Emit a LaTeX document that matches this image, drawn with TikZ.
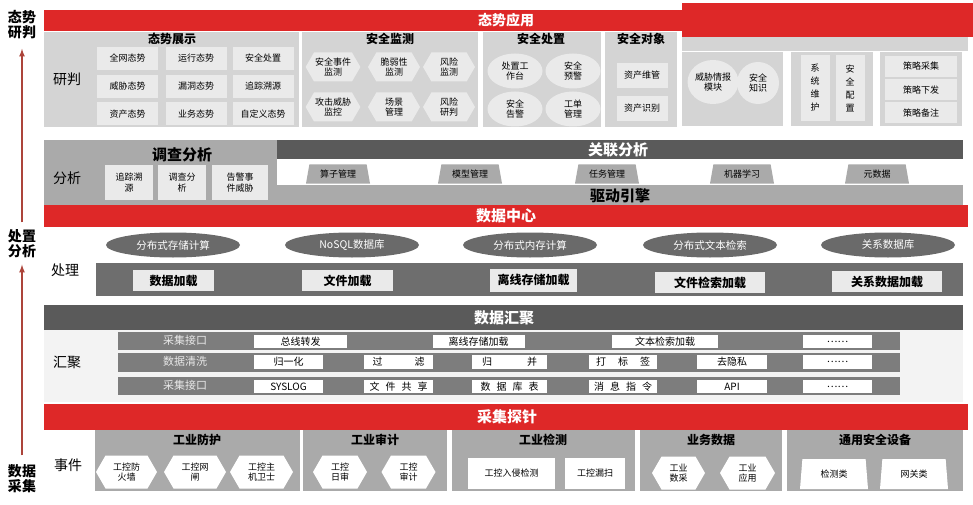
\documentclass[tikz,border=0pt]{standalone}
\usepackage{fontspec}
\setmainfont{Noto Sans CJK SC}
\usetikzlibrary{shapes.geometric}
\usetikzlibrary{shapes.symbols}
\usetikzlibrary{positioning}

\definecolor{tsred}{RGB}{222,40,40}
\definecolor{panelgrey}{RGB}{212,212,212}
\definecolor{cellgrey}{RGB}{234,234,234}
\definecolor{darkbar}{RGB}{90,90,90}
\definecolor{loadbar}{RGB}{110,110,110}
\definecolor{midgrey}{RGB}{170,170,170}
\definecolor{ovalgrey}{RGB}{106,106,106}
\definecolor{rowgrey}{RGB}{125,125,125}
\definecolor{paper}{RGB}{243,243,243}
\definecolor{arrowred}{RGB}{172,68,58}

\begin{document}
\begin{tikzpicture}[x=1pt,y=-1pt,
        font=\fontsize{9}{10.5}\selectfont,
        bartext/.style = {text=white,font=\fontsize{14}{16}\selectfont\bfseries},
        hdr/.style = {font=\fontsize{12}{14}\selectfont\bfseries},
        bighdr/.style = {font=\fontsize{15}{17}\selectfont\bfseries},
        rowlbl/.style = {font=\fontsize{14}{16}\selectfont},
        sidelbl/.style = {font=\fontsize{14}{15}\selectfont\bfseries,align=center},
        cell/.style = {fill=cellgrey,inner sep=1pt,align=center},
        hexa/.style = {shape=signal,signal to=east and west,signal pointer angle=120,
            fill=cellgrey,inner sep=1pt,align=center},
        oval/.style = {ellipse,fill=cellgrey,inner sep=0pt,align=center},
        trap/.style = {trapezium,trapezium left angle=72,trapezium right angle=72,
            trapezium stretches body,fill=midgrey,inner sep=1pt},
        store/.style = {ellipse,fill=ovalgrey,text=white,minimum width=134,minimum height=25,
            inner sep=0pt,font=\fontsize{10.5}{12}\selectfont},
        load/.style = {fill=cellgrey,minimum height=21,inner sep=1pt,
            font=\fontsize{12}{14}\selectfont\bfseries},
        rowtag/.style = {text={rgb,255:red,232;green,232;blue,232},font=\fontsize{11}{12}\selectfont},
        slot/.style = {fill=white,minimum height=13,inner sep=0pt,font=\fontsize{10}{11}\selectfont},
        probe/.style = {fill=white,inner sep=1pt,align=center,minimum height=33},
        up/.style = {-latex,draw=arrowred,line width=1.6pt}]
    \useasboundingbox (0,0) rectangle (973,505);
    % left side labels
    \node[sidelbl] (tsyp) at (22,25) {态势\\研判};
    \node[sidelbl] (czfx) at (22,244) {处置\\分析};
    \node[sidelbl] (sjcj) at (22,479) {数据\\采集};
    \draw[up,shorten >=6pt,shorten <=4pt] (czfx.north) -- (tsyp.south);
    \draw[up,shorten >=3pt,shorten <=6pt] (sjcj.north) -- (czfx.south);

    % situation application
    \fill[tsred] (44,10) rectangle (968,31);
    \fill[tsred] (682,3) rectangle (973,37);
    \node[bartext] (tsyy) at (506,20) {态势应用};
    \fill[panelgrey] (44,32) rectangle (299,127);
    \fill[panelgrey] (302,32) rectangle (478,127);
    \fill[panelgrey] (483,32) rectangle (601,127);
    \fill[panelgrey] (605,32) rectangle (677,127);
    \fill[panelgrey] (682,37) rectangle (968,51);
    \fill[panelgrey] (682,52) rectangle (783,126);
    \fill[panelgrey] (791,52) rectangle (873,126);
    \fill[panelgrey] (880,52) rectangle (962,126);
    \node[rowlbl] (yp) at (67,79) {研判};
    \node[hdr] (tszs) at (172,39) {态势展示};
    \node[hdr] (aqjc) at (390,39) {安全监测};
    \node[hdr] (aqcz) at (541,39) {安全处置};
    \node[hdr] (aqdx) at (641,39) {安全对象};
    \begin{scope}[every node/.append style={cell,minimum width=61,minimum height=23}]
        \node (z11) at (127.5,58.5) {全网态势};
        \node (z12) at (196,58.5) {运行态势};
        \node (z13) at (263,58.5) {安全处置};
        \node (z21) at (127.5,86.5) {威胁态势};
        \node (z22) at (196,86.5) {漏洞态势};
        \node (z23) at (263,86.5) {追踪溯源};
        \node (z31) at (127.5,114) {资产态势};
        \node (z32) at (196,114) {业务态势};
        \node (z33) at (263,114) {自定义态势};
    \end{scope}
    \begin{scope}[every node/.append style={hexa,minimum width=52,minimum height=29}]
        \node (j1) at (333,67) {安全事件\\监测};
        \node (j2) at (394,67) {脆弱性\\监测};
        \node (j3) at (449,67) {风险\\监测};
        \node (j4) at (333,107) {攻击威胁\\监控};
        \node (j5) at (394,107) {场景\\管理};
        \node (j6) at (449,107) {风险\\研判};
    \end{scope}
    \begin{scope}[every node/.append style={oval,minimum width=55,minimum height=35}]
        \node (c1) at (515,71) {处置工\\作台};
        \node (c2) at (573,71) {安全\\预警};
        \node (c3) at (515,109) {安全\\告警};
        \node (c4) at (573,109) {工单\\管理};
    \end{scope}
    \node[cell,minimum width=51,minimum height=25] (d1) at (642,75.5) {资产维管};
    \node[cell,minimum width=51,minimum height=25] (d2) at (642,108.5) {资产识别};
    \node[oval,minimum size=44] (q1) at (713,82) {威胁情报\\模块};
    \node[oval,minimum size=42] (q2) at (758,83) {安全\\知识};
    \node[cell,minimum width=29,minimum height=66,font=\fontsize{9}{13}\selectfont] (w1) at (815,88) {系\\统\\维\\护};
    \node[cell,minimum width=29,minimum height=66,font=\fontsize{9}{13}\selectfont] (w2) at (850,88) {安\\全\\配\\置};
    \node[cell,minimum width=72,minimum height=21] (p1) at (921,66.5) {策略采集};
    \node[cell,minimum width=72,minimum height=21] (p2) at (921,90) {策略下发};
    \node[cell,minimum width=72,minimum height=21] (p3) at (921,113) {策略备注};

    % analysis
    \fill[midgrey] (44,140) rectangle (963,205);
    \fill[darkbar] (277,140) rectangle (963,159);
    \fill[white] (277,159) rectangle (963,185);
    \node[rowlbl] (fx) at (67,178) {分析};
    \node[bighdr] (dcfx) at (182,155) {调查分析};
    \node[cell,minimum width=48,minimum height=35] (a1) at (129,182.5) {追踪溯\\源};
    \node[cell,minimum width=48,minimum height=35] (a2) at (182,182.5) {调查分\\析};
    \node[cell,minimum width=56,minimum height=35] (a3) at (240,182.5) {告警事\\件威胁};
    \node[bartext,font=\fontsize{15}{17}\selectfont\bfseries] (glfx) at (618,150) {关联分析};
    \node[bighdr] (qdyq) at (620,196) {驱动引擎};
    \begin{scope}[every node/.append style={trap,minimum width=64,minimum height=19}]
        \node (t1) at (338,174) {算子管理};
        \node (t2) at (470,174) {模型管理};
        \node (t3) at (607,174) {任务管理};
        \node (t4) at (742,174) {机器学习};
        \node (t5) at (877,174) {元数据};
    \end{scope}

    % data centre
    \fill[tsred] (44,205) rectangle (968,227);
    \node[bartext,font=\fontsize{15}{17}\selectfont\bfseries] (sjzx) at (506,216) {数据中心};
    \node[store] (s1) at (173,245) {分布式存储计算};
    \node[store] (s2) at (352,245) {NoSQL数据库};
    \node[store] (s3) at (530,245) {分布式内存计算};
    \node[store] (s4) at (710,245) {分布式文本检索};
    \node[store] (s5) at (888,245) {关系数据库};
    \node[rowlbl] (cl) at (65,270) {处理};
    \fill[loadbar] (96,263) rectangle (963,296);
    \node[load,minimum width=81] (l1) at (173.5,280.5) {数据加载};
    \node[load,minimum width=91] (l2) at (347.5,280.5) {文件加载};
    \node[load,minimum width=87,minimum height=23] (l3) at (533.5,280) {离线存储加载};
    \node[load,minimum width=110] (l4) at (710,282.5) {文件检索加载};
    \node[load,minimum width=110] (l5) at (887,281.5) {关系数据加载};

    % data gathering
    \fill[darkbar] (44,305) rectangle (963,330);
    \node[bartext,font=\fontsize{15}{17}\selectfont\bfseries] (sjhj) at (504,318) {数据汇聚};
    \fill[paper] (44,330) rectangle (963,402);
    \node[rowlbl] (hj) at (67,362) {汇聚};
    \fill[rowgrey] (118,332) rectangle (900,350);
    \fill[rowgrey] (118,353) rectangle (900,372);
    \fill[rowgrey] (118,377) rectangle (900,395);
    \node[rowtag] (r1) at (185,340) {采集接口};
    \node[rowtag] (r2) at (185,361.5) {数据清洗};
    \node[rowtag] (r3) at (185,385.5) {采集接口};
    \node[slot,minimum width=93] (r11) at (300.5,341.5) {总线转发};
    \node[slot,minimum width=92] (r12) at (478.5,341.5) {离线存储加载};
    \node[slot,minimum width=106] (r13) at (665,341.5) {文本检索加载};
    \node[slot,minimum width=69] (r14) at (837.5,341.5) {……};
    \node[slot,minimum width=69,minimum height=14] (r21) at (288.5,362) {归一化};
    \node[slot,minimum width=69,minimum height=14] (r22) at (398.5,362) {过\hspace{3.2em}滤};
    \node[slot,minimum width=75,minimum height=14] (r23) at (509.5,362) {归\hspace{3.5em}并};
    \node[slot,minimum width=68,minimum height=14] (r24) at (623,362) {打\hspace{1.2em}标\hspace{1.2em}签};
    \node[slot,minimum width=70,minimum height=14] (r25) at (732,362) {去隐私};
    \node[slot,minimum width=69,minimum height=14] (r26) at (837.5,362) {……};
    \node[slot,minimum width=69] (r31) at (288.5,386.5) {SYSLOG};
    \node[slot,minimum width=69] (r32) at (398.5,386.5) {文\hspace{0.6em}件\hspace{0.6em}共\hspace{0.6em}享};
    \node[slot,minimum width=75] (r33) at (509.5,386.5) {数\hspace{0.6em}据\hspace{0.6em}库\hspace{0.6em}表};
    \node[slot,minimum width=68] (r34) at (623,386.5) {消\hspace{0.6em}息\hspace{0.6em}指\hspace{0.6em}令};
    \node[slot,minimum width=70] (r35) at (732,386.5) {API};
    \node[slot,minimum width=69] (r36) at (837.5,386.5) {……};

    % probes
    \fill[tsred] (44,404) rectangle (968,430);
    \node[bartext,font=\fontsize{15}{17}\selectfont\bfseries] (cjtz) at (507,417) {采集探针};
    \node[rowlbl] (sj) at (68,465) {事件};
    \fill[midgrey] (95,430) rectangle (300,491);
    \fill[midgrey] (303,430) rectangle (447,491);
    \fill[midgrey] (452,430) rectangle (635,491);
    \fill[midgrey] (640,430) rectangle (782,491);
    \fill[midgrey] (787,430) rectangle (963,491);
    \node[hdr] (gyfh) at (197,440) {工业防护};
    \node[hdr] (gysj) at (375,440) {工业审计};
    \node[hdr] (gyjc) at (543,440) {工业检测};
    \node[hdr] (ywsj) at (711,440) {业务数据};
    \node[hdr] (tyaq) at (875,440) {通用安全设备};
    \begin{scope}[every node/.append style={hexa,fill=white,minimum height=33}]
        \node[minimum width=61] (e1) at (126.5,472) {工控防\\火墙};
        \node[minimum width=62] (e2) at (195,472) {工控网\\闸};
        \node[minimum width=63] (e3) at (261.5,472) {工控主\\机卫士};
        \node[minimum width=54] (e4) at (340,472) {工控\\日审};
        \node[minimum width=54] (e5) at (408.5,472) {工控\\审计};
        \node[minimum width=53] (e8) at (678.5,473) {工业\\数采};
        \node[minimum width=55] (e9) at (747.5,473) {工业\\应用};
    \end{scope}
    \node[probe,minimum width=87,minimum height=31] (e6) at (511.5,473.5) {工控入侵检测};
    \node[probe,minimum width=60,minimum height=31] (e7) at (595,473.5) {工控漏扫};
    \node[trap,fill=white,trapezium left angle=77,trapezium right angle=77,
        minimum width=68,minimum height=30] (e10) at (834,474) {检测类};
    \node[trap,fill=white,trapezium left angle=77,trapezium right angle=77,
        minimum width=68,minimum height=30] (e11) at (914,474) {网关类};
\end{tikzpicture}
\end{document}
